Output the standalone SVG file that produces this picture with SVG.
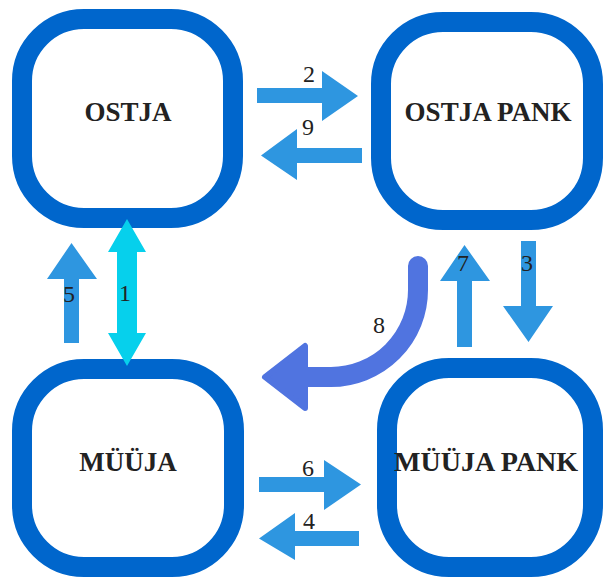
<svg xmlns="http://www.w3.org/2000/svg" width="603" height="578" viewBox="0 0 603 578">
  <style>
    .box { fill: #ffffff; stroke: #0066CC; stroke-width: 20; }
    .title { font-family: "Liberation Serif", "Times New Roman", serif; font-weight: bold; font-size: 27px; fill: #222222; text-anchor: middle; }
    .num { font-family: "Liberation Serif", "Times New Roman", serif; font-size: 24px; fill: #222222; text-anchor: middle; }
    .flow { fill: #2E96E0; }
    .both { fill: #06D0EC; }
    .bend { fill: none; stroke: #5074E0; stroke-width: 20; stroke-linecap: round; }
    .bendhead { fill: #5074E0; stroke: #5074E0; stroke-width: 6; stroke-linejoin: round; }
  </style>

  <!-- parties -->
  <g id="ostja">
    <rect class="box" x="22" y="19" width="211" height="199" rx="62" ry="62"/>
    <text class="title" x="128" y="121">OSTJA</text>
  </g>
  <g id="ostja-pank">
    <rect class="box" x="381" y="22" width="212" height="198" rx="62" ry="62"/>
    <text class="title" x="488" y="121">OSTJA PANK</text>
  </g>
  <g id="myyja">
    <rect class="box" x="22" y="369" width="212" height="198" rx="62" ry="62"/>
    <text class="title" x="128" y="471">MÜÜJA</text>
  </g>
  <g id="myyja-pank">
    <rect class="box" x="387" y="368" width="206" height="199" rx="62" ry="62"/>
    <text class="title" x="486" y="471" textLength="184" lengthAdjust="spacingAndGlyphs">MÜÜJA PANK</text>
  </g>

  <!-- flows between the parties -->
  <g id="connectors">
    <!-- 1: buyer <-> seller -->
    <polygon class="both" points="127,219 146,252 137,252 137,333 146,333 127,366 108,333 117,333 117,252 108,252"/>
    <text class="num" x="125" y="301">1</text>

    <!-- 2: buyer -> buyer's bank -->
    <polygon class="flow" points="257,88 322,88 322,71 358,96 322,121 322,103 257,103"/>
    <text class="num" x="309" y="82">2</text>

    <!-- 9: buyer's bank -> buyer -->
    <polygon class="flow" points="362,148 297,148 297,129 261,155.5 297,180 297,163 362,163"/>
    <text class="num" x="308" y="135">9</text>

    <!-- 3: buyer's bank -> seller's bank -->
    <polygon class="flow" points="521,241 536,241 536,306 553,306 528.5,342 503,306 521,306"/>
    <text class="num" x="527" y="271">3</text>

    <!-- 7: seller's bank -> buyer's bank -->
    <polygon class="flow" points="457,347 472,347 472,281 490,281 464.5,245 440,281 457,281"/>
    <text class="num" x="463" y="271">7</text>

    <!-- 5: seller -> buyer -->
    <polygon class="flow" points="64,343 79,343 79,279 97,279 71.5,243 47,279 64,279"/>
    <text class="num" x="69" y="302">5</text>

    <!-- 6: seller -> seller's bank -->
    <polygon class="flow" points="259,477 324,477 324,460 361,484.5 324,510 324,492 259,492"/>
    <text class="num" x="308" y="476">6</text>

    <!-- 4: seller's bank -> seller -->
    <polygon class="flow" points="359,531 295,531 295,513 259,538.5 295,560 295,546 359,546"/>
    <text class="num" x="309" y="529">4</text>

    <!-- 8: buyer's bank -> seller (curved) -->
    <path class="bend" d="M418,266 L418,290 A87,87 0 0 1 331,377 L305,377"/>
    <polygon class="bendhead" points="265,377 305,346 305,408"/>
    <text class="num" x="379" y="333">8</text>
  </g>
</svg>
